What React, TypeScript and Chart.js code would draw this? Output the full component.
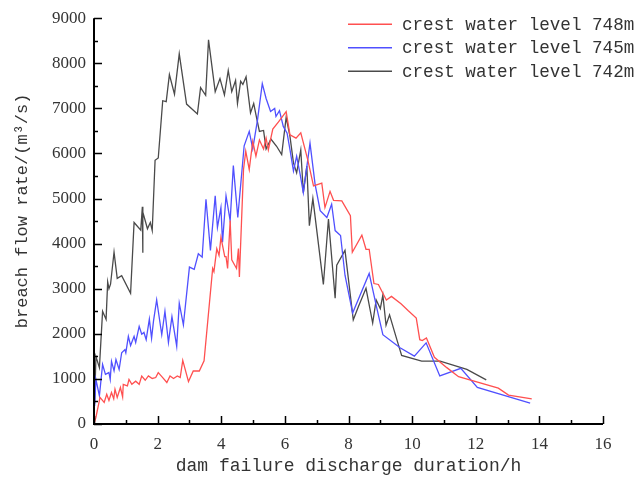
import React, { useEffect, useRef } from "react";
import { Chart, registerables } from "chart.js";

Chart.register(...registerables);

const seriesLabels = ["crest water level 748m", "crest water level 745m", "crest water level 742m"];
const seriesColors = ["#ff5050", "#5050ff", "#4a4a4a"];

const xTitle = "dam failure discharge duration/h";
const yTitle = "\u00a0\u00a0breach flow rate/(m\u00b3/s)";

const xMin = 0, xMax = 16, xStep = 2;
const yMin = 0, yMax = 9000, yStep = 1000;

const x748 = [0, 0.06, 0.19, 0.32, 0.4, 0.47, 0.55, 0.62, 0.66, 0.73, 0.83, 0.9, 0.92, 1.05, 1.1, 1.19, 1.31, 1.42, 1.5, 1.61, 1.71, 1.83, 1.94, 2.02, 2.16, 2.29, 2.39, 2.5, 2.62, 2.71, 2.79, 2.97, 3.12, 3.31, 3.46, 3.73, 3.77, 3.86, 3.93, 3.99, 4.11, 4.15, 4.2, 4.28, 4.33, 4.48, 4.54, 4.57, 4.7, 4.77, 4.88, 4.99, 5.09, 5.2, 5.33, 5.41, 5.48, 5.62, 5.8, 6.04, 6.16, 6.35, 6.5, 6.72, 6.9, 7.16, 7.26, 7.42, 7.53, 7.79, 8.06, 8.12, 8.42, 8.55, 8.65, 8.8, 8.94, 9.19, 9.35, 9.65, 9.88, 10.13, 10.24, 10.32, 10.45, 10.7, 11.09, 11.46, 12.71, 13.03, 13.76];
const y748 = [0, 150, 590, 480, 660, 520, 700, 560, 770, 590, 810, 600, 880, 845, 990, 880, 950, 880, 1065, 970, 1065, 1010, 1030, 1140, 1030, 920, 1065, 1010, 1065, 1030, 1410, 940, 1175, 1175, 1400, 3450, 3380, 3890, 3740, 4140, 3710, 3710, 3450, 4510, 3640, 3450, 3890, 3260, 5645, 6050, 5645, 6270, 5940, 6300, 6100, 6340, 6080, 6540, 6700, 6930, 6415, 6340, 6460, 5860, 5280, 5340, 4800, 5160, 4960, 4950, 4620, 3810, 4190, 3875, 3875, 3115, 3095, 2750, 2830, 2665, 2510, 2350, 1870, 1850, 1910, 1480, 1250, 1050, 795, 640, 555];

const x745 = [0.02, 0.06, 0.17, 0.27, 0.36, 0.47, 0.51, 0.55, 0.63, 0.69, 0.79, 0.87, 0.97, 1.0, 1.08, 1.15, 1.26, 1.31, 1.42, 1.5, 1.57, 1.64, 1.74, 1.81, 1.87, 1.97, 2.13, 2.23, 2.34, 2.45, 2.6, 2.68, 2.81, 3.0, 3.15, 3.28, 3.4, 3.52, 3.66, 3.81, 3.88, 3.99, 4.04, 4.15, 4.28, 4.38, 4.52, 4.72, 4.88, 4.99, 5.14, 5.29, 5.41, 5.55, 5.68, 5.72, 5.83, 5.95, 6.07, 6.16, 6.27, 6.37, 6.48, 6.58, 6.79, 6.95, 7.11, 7.32, 7.47, 7.58, 7.75, 7.89, 8.13, 8.65, 8.89, 9.08, 9.62, 10.07, 10.44, 10.87, 11.53, 12.05, 13.71];
const y745 = [400, 990, 625, 1320, 1100, 1140, 990, 1390, 1180, 1430, 1210, 1580, 1650, 1580, 1945, 1740, 1945, 1810, 2165, 1990, 2030, 1870, 2325, 1900, 2280, 2750, 1980, 2500, 1810, 2380, 1725, 2680, 2200, 3480, 3430, 3775, 3700, 4985, 3850, 5060, 4360, 4800, 4030, 5060, 4510, 5730, 4580, 6170, 6490, 6100, 6745, 7550, 7220, 6930, 7000, 6820, 6950, 6600, 6450, 6085, 5610, 5940, 5535, 5130, 6230, 5315, 4730, 4580, 4875, 4290, 4180, 3300, 2460, 3340, 2570, 1980, 1690, 1505, 1800, 1065, 1235, 810, 465];

const x742 = [0.02, 0.06, 0.17, 0.27, 0.38, 0.43, 0.47, 0.52, 0.63, 0.73, 0.87, 1.15, 1.26, 1.47, 1.52, 1.53, 1.54, 1.68, 1.77, 1.83, 1.92, 2.02, 2.16, 2.27, 2.37, 2.53, 2.68, 2.91, 3.25, 3.35, 3.51, 3.6, 3.81, 3.96, 4.1, 4.22, 4.33, 4.45, 4.51, 4.61, 4.68, 4.78, 4.92, 5.02, 5.09, 5.2, 5.33, 5.41, 5.56, 5.74, 5.9, 6.04, 6.16, 6.27, 6.37, 6.5, 6.58, 6.69, 6.77, 6.88, 7.21, 7.37, 7.58, 7.63, 7.89, 8.15, 8.31, 8.55, 8.76, 8.87, 9.0, 9.08, 9.18, 9.29, 9.52, 9.67, 10.3, 10.88, 11.72, 12.33];
const y742 = [450, 1500, 1250, 2500, 2320, 3150, 3000, 3100, 3810, 3230, 3290, 2900, 4470, 4300, 4820, 3800, 4700, 4330, 4470, 4290, 5850, 5900, 7170, 7150, 7750, 7315, 8210, 7095, 6875, 7460, 7290, 8520, 7370, 7660, 7300, 7840, 7370, 7620, 7110, 7600, 7530, 7700, 6900, 7110, 6860, 6490, 6510, 6100, 6320, 6160, 5975, 6800, 6380, 5790, 5570, 6080, 5130, 5720, 4400, 5000, 3095, 4545, 2790, 3520, 3850, 2310, 2600, 3010, 2240, 2750, 2560, 2860, 2190, 2420, 1870, 1520, 1395, 1395, 1210, 980];

const toPoints = (xs: number[], ys: number[]) => xs.map((x, i) => ({ x, y: ys[i] }));

const MONO = "'Liberation Mono', 'DejaVu Sans Mono', monospace";
const SERIF = "'Liberation Serif', 'DejaVu Serif', serif";

const axisPlugin = {
  id: "inwardAxes",
  afterDatasetsDraw(chart: any) {
    const { ctx, chartArea, scales } = chart;
    const xs = scales.x;
    const ys = scales.y;
    ctx.save();
    ctx.strokeStyle = "#000";
    ctx.lineWidth = 2;
    ctx.beginPath();
    ctx.moveTo(chartArea.left, chartArea.top);
    ctx.lineTo(chartArea.left, chartArea.bottom);
    ctx.lineTo(chartArea.right, chartArea.bottom);
    ctx.stroke();
    ctx.lineWidth = 1.5;
    ctx.beginPath();
    for (let v = yMin; v <= yMax; v += yStep / 2) {
      const py = Math.round(ys.getPixelForValue(v)) + 0.5;
      const len = v % yStep === 0 ? 8 : 4;
      ctx.moveTo(chartArea.left, py);
      ctx.lineTo(chartArea.left + len, py);
    }
    for (let v = xMin; v <= xMax; v += xStep / 2) {
      const px = Math.round(xs.getPixelForValue(v)) + 0.5;
      const len = v % xStep === 0 ? 8 : 4;
      ctx.moveTo(px, chartArea.bottom);
      ctx.lineTo(px, chartArea.bottom - len);
    }
    ctx.stroke();
    ctx.restore();
  },
};

const legendPlugin = {
  id: "customLegend",
  afterDraw(chart: any) {
    const { ctx, chartArea } = chart;
    ctx.save();
    ctx.font = "17.6px " + MONO;
    ctx.textBaseline = "middle";
    ctx.textAlign = "left";
    chart.data.datasets.forEach((ds: any, i: number) => {
      const y = chartArea.top + 6 + i * 23.5;
      const x0 = chartArea.right - 255;
      ctx.strokeStyle = ds.borderColor;
      ctx.lineWidth = 1.5;
      ctx.beginPath();
      ctx.moveTo(x0, y);
      ctx.lineTo(x0 + 44, y);
      ctx.stroke();
      ctx.fillStyle = "#333";
      ctx.fillText(ds.label, x0 + 54, y + 1);
    });
    ctx.restore();
  },
};

export default function App() {
  const ref = useRef<HTMLCanvasElement | null>(null);
  useEffect(() => {
    if (!ref.current) return;
    const datasets = [
      { label: seriesLabels[0], data: toPoints(x748, y748), borderColor: seriesColors[0] },
      { label: seriesLabels[1], data: toPoints(x745, y745), borderColor: seriesColors[1] },
      { label: seriesLabels[2], data: toPoints(x742, y742), borderColor: seriesColors[2] },
    ].map((d) => ({ ...d, borderWidth: 1.3, pointRadius: 0, fill: false, tension: 0 }));
    const chart = new Chart(ref.current, {
      type: "line",
      data: { datasets },
      options: {
        animation: false,
        responsive: false,
        devicePixelRatio: 1,
        layout: { padding: { left: 0, top: 14, right: 38, bottom: 0 } },
        plugins: { legend: { display: false }, tooltip: { enabled: false } },
        scales: {
          x: {
            type: "linear",
            min: xMin,
            max: xMax,
            grid: { display: false, drawTicks: false },
            border: { display: false },
            ticks: { stepSize: xStep, padding: 10, color: "#333", font: { family: SERIF, size: 17 }, maxRotation: 0, callback: (v: any) => String(v) },
            title: { display: true, text: xTitle, color: "#333", font: { family: MONO, size: 18 }, padding: { top: 0, bottom: 1 } },
            afterFit: (s: any) => { s.height = 54; },
          },
          y: {
            type: "linear",
            min: yMin,
            max: yMax,
            grid: { display: false, drawTicks: false },
            border: { display: false },
            ticks: { stepSize: yStep, padding: 8, color: "#333", font: { family: SERIF, size: 17 }, callback: (v: any) => String(v) },
            title: { display: true, text: yTitle, color: "#333", font: { family: MONO, size: 17 }, padding: { top: 12, bottom: 0 } },
            afterFit: (s: any) => { s.width = 94; },
          },
        },
      },
      plugins: [axisPlugin, legendPlugin],
    } as any);
    return () => chart.destroy();
  }, []);
  return (
    <div style={{ position: "fixed", left: 0, top: 0, width: 641, height: 478, background: "#fff" }}>
      <canvas ref={ref} width={641} height={478} style={{ display: "block" }} />
    </div>
  );
}
